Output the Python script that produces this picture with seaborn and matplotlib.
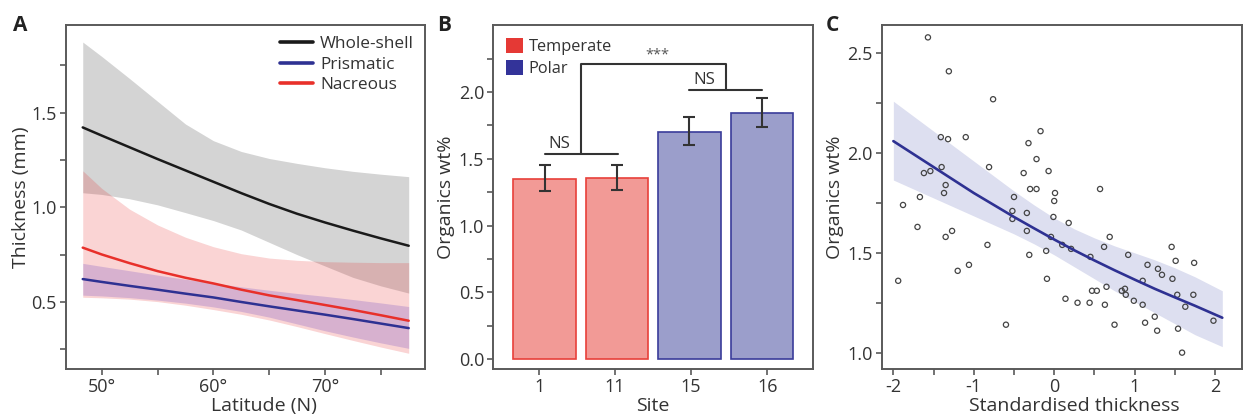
import numpy as np
import pandas as pd
import matplotlib
matplotlib.use("Agg")
import matplotlib.pyplot as plt
import seaborn as sns
from matplotlib.patches import Patch
from matplotlib.lines import Line2D
from matplotlib.ticker import FixedLocator, FormatStrFormatter

# ---------------- Panel A data ----------------
lat = [48.3, 50, 52.5, 55, 57.5, 60, 62.5, 65, 67.5, 70, 72.5, 75, 77.5]
whole_fit = [1.422, 1.379, 1.317, 1.255, 1.195, 1.135, 1.075, 1.018, 0.966, 0.920, 0.877, 0.836, 0.797]
whole_hi = [1.873, 1.797, 1.680, 1.560, 1.440, 1.352, 1.295, 1.258, 1.232, 1.209, 1.190, 1.175, 1.162]
whole_lo = [1.077, 1.068, 1.045, 1.013, 0.972, 0.930, 0.880, 0.815, 0.750, 0.690, 0.630, 0.585, 0.547]
nacre_fit = [0.787, 0.751, 0.705, 0.663, 0.628, 0.598, 0.565, 0.535, 0.510, 0.484, 0.458, 0.430, 0.401]
nacre_hi = [1.193, 1.100, 0.990, 0.907, 0.842, 0.792, 0.755, 0.732, 0.720, 0.713, 0.710, 0.708, 0.708]
nacre_lo = [0.525, 0.522, 0.515, 0.502, 0.483, 0.460, 0.435, 0.405, 0.370, 0.333, 0.297, 0.262, 0.229]
prism_fit = [0.621, 0.606, 0.585, 0.565, 0.544, 0.524, 0.500, 0.477, 0.455, 0.433, 0.410, 0.386, 0.362]
prism_hi = [0.704, 0.688, 0.665, 0.642, 0.620, 0.600, 0.580, 0.562, 0.545, 0.530, 0.513, 0.495, 0.476]
prism_lo = [0.536, 0.532, 0.523, 0.510, 0.494, 0.474, 0.450, 0.420, 0.384, 0.348, 0.315, 0.284, 0.255]
series_names = ["Whole-shell", "Prismatic", "Nacreous"]

# ---------------- Panel B data ----------------
sites = ["1", "11", "15", "16"]
site_group = ["Temperate", "Temperate", "Polar", "Polar"]
organics = [1.35, 1.36, 1.70, 1.845]
err_low = [1.26, 1.27, 1.605, 1.74]
err_high = [1.45, 1.455, 1.81, 1.958]

# ---------------- Panel C data ----------------
sc_x = [-1.57, -1.31, -0.76, -0.17, -1.41, -1.32, -1.10, -0.32, -0.22, -0.81,
        -1.40, -0.07, -0.38, -1.62, -1.54, -1.35, -0.30, -0.22, 0.57, -1.37,
        0.01, 0.00, -0.50, -1.67, -1.88, -0.52, -0.34, -0.01, 0.18, -0.52,
        -1.70, -1.27, -0.34, -1.35, -0.04, 0.69, -0.83, 0.10, 0.21, 0.62,
        -0.10, 1.46, -0.31, 0.92, 0.45, 1.51, 1.74, -1.06, 1.16, 1.29,
        -1.20, 1.34, 1.47, 1.10, -1.94, -0.09, 0.65, 0.47, 0.53, 0.88,
        0.84, 0.89, 1.53, 1.73, 0.99, 0.14, 0.29, 0.44, 0.63, 1.10,
        1.63, 1.25, 1.98, -0.60, 0.75, 1.13, 1.54, 1.28, 1.59]
sc_y = [2.58, 2.41, 2.27, 2.11, 2.08, 2.07, 2.08, 2.05, 1.97, 1.93,
        1.93, 1.91, 1.90, 1.90, 1.91, 1.84, 1.82, 1.82, 1.82, 1.80,
        1.80, 1.76, 1.78, 1.78, 1.74, 1.71, 1.70, 1.68, 1.65, 1.67,
        1.63, 1.61, 1.61, 1.58, 1.58, 1.58, 1.54, 1.54, 1.52, 1.53,
        1.51, 1.53, 1.49, 1.49, 1.48, 1.46, 1.45, 1.44, 1.44, 1.42,
        1.41, 1.39, 1.37, 1.36, 1.36, 1.37, 1.33, 1.31, 1.31, 1.32,
        1.31, 1.29, 1.29, 1.29, 1.26, 1.27, 1.25, 1.25, 1.24, 1.24,
        1.23, 1.18, 1.16, 1.14, 1.14, 1.15, 1.12, 1.11, 1.00]
fit_x = [-2.0, -1.75, -1.5, -1.25, -1.0, -0.75, -0.5, -0.25, 0.0, 0.25,
         0.5, 0.75, 1.0, 1.25, 1.5, 1.75, 2.09]
fit_y = [2.06, 1.995, 1.93, 1.865, 1.80, 1.74, 1.68, 1.623, 1.567, 1.513,
         1.462, 1.413, 1.366, 1.32, 1.277, 1.235, 1.175]
fit_hi = [2.26, 2.185, 2.11, 2.035, 1.96, 1.885, 1.81, 1.74, 1.675, 1.62,
          1.575, 1.535, 1.50, 1.465, 1.425, 1.38, 1.31]
fit_lo = [1.865, 1.82, 1.775, 1.73, 1.685, 1.64, 1.595, 1.545, 1.49, 1.43,
          1.37, 1.31, 1.255, 1.20, 1.145, 1.09, 1.03]

# ---------------- style ----------------
sns.set_theme(style="ticks")
FONT = ["Open Sans", "DejaVu Sans"]
plt.rcParams["font.family"] = FONT
plt.rcParams["axes.unicode_minus"] = False
SPINE = "#5a5a5a"
TXT = "#333333"
plt.rcParams.update({
    "axes.edgecolor": SPINE, "axes.linewidth": 1.4,
    "xtick.color": SPINE, "ytick.color": SPINE,
    "xtick.labelcolor": TXT, "ytick.labelcolor": TXT,
    "xtick.major.size": 4.5, "ytick.major.size": 4.5,
    "xtick.minor.size": 4.5, "ytick.minor.size": 4.5,
    "xtick.major.width": 1.2, "ytick.major.width": 1.2,
    "xtick.minor.width": 1.2, "ytick.minor.width": 1.2,
    "xtick.labelsize": 13, "ytick.labelsize": 13,
    "axes.labelsize": 14, "axes.labelcolor": TXT,
})

BLACK = "#1a1a1a"
BLUE = "#2E3192"
RED = "#E8302A"

W, H = 1244, 415
fig = plt.figure(figsize=(W / 100, H / 100), dpi=100)

def box(l, r, t=25, b=369):
    return [l / W, (H - b) / H, (r - l) / W, (b - t) / H]

axA = fig.add_axes(box(66, 425))
axB = fig.add_axes(box(493.3, 813))
axC = fig.add_axes(box(881.7, 1242))

# ---------------- Panel A ----------------
axA.fill_between(lat, whole_lo, whole_hi, color="black", alpha=0.17, lw=0)
axA.fill_between(lat, nacre_lo, nacre_hi, color=(0.90, 0.16, 0.16), alpha=0.2, lw=0)
axA.fill_between(lat, prism_lo, prism_hi, color=(0.30, 0.15, 0.75), alpha=0.2, lw=0)
dfA = pd.DataFrame({
    "lat": lat * 3,
    "thick": whole_fit + prism_fit + nacre_fit,
    "series": [series_names[0]] * len(lat) + [series_names[1]] * len(lat) + [series_names[2]] * len(lat),
})
sns.lineplot(data=dfA, x="lat", y="thick", hue="series",
             palette={"Whole-shell": BLACK, "Prismatic": BLUE, "Nacreous": RED},
             lw=1.8, ax=axA, legend=False)
axA.set_xlim(46.8, 78.96)
axA.set_ylim(0.146, 1.963)
axA.xaxis.set_major_locator(FixedLocator([50, 60, 70]))
axA.set_xticklabels(["50°", "60°", "70°"])
axA.xaxis.set_minor_locator(FixedLocator([55, 65, 75]))
axA.yaxis.set_major_locator(FixedLocator([0.5, 1.0, 1.5]))
axA.yaxis.set_major_formatter(FormatStrFormatter("%.1f"))
axA.yaxis.set_minor_locator(FixedLocator([0.25, 0.75, 1.25, 1.75]))
axA.set_xlabel("Latitude (N)")
axA.set_ylabel("Thickness (mm)")
axA.xaxis.set_label_coords(0.55, -0.08)
axA.yaxis.set_label_coords(-0.1, 0.5)
handlesA = [Line2D([], [], color=c, lw=2.6) for c in (BLACK, BLUE, RED)]
axA.legend(handlesA, series_names, loc="upper right", frameon=False, fontsize=12.4,
           handlelength=1.9, handletextpad=0.4, labelspacing=0.26,
           borderaxespad=0.25, labelcolor=TXT)

# ---------------- Panel B ----------------
dfB = pd.DataFrame({"site": sites, "org": organics, "group": site_group})
fill_pal = {"Temperate": "#F29A96", "Polar": "#9B9ECB"}
edge_pal = {"Temperate": "#E8403A", "Polar": "#3A3C9A"}
sns.barplot(data=dfB, x="site", y="org", hue="group", palette=fill_pal,
            dodge=False, width=0.863, legend=False, ax=axB, errorbar=None,
            order=sites, saturation=1)
for bar_patch, g in zip(axB.patches, site_group):
    bar_patch.set_edgecolor(edge_pal[g])
    bar_patch.set_linewidth(1.2)
pos = np.arange(len(sites))
axB.errorbar(pos, organics,
             yerr=[np.array(organics) - np.array(err_low), np.array(err_high) - np.array(organics)],
             fmt="none", ecolor="#333333", elinewidth=1.5, capsize=4.3, capthick=1.5)
axB.set_xlim(-0.707, 3.706)
axB.set_ylim(-0.0726, 2.501)
# tick marks in the original sit slightly off the bar centres
axB.set_xticks([-0.075, 0.975, 2.02, 3.075])
axB.set_xticklabels(sites)
axB.yaxis.set_major_locator(FixedLocator([0.0, 0.5, 1.0, 1.5, 2.0]))
axB.yaxis.set_major_formatter(FormatStrFormatter("%.1f"))
axB.yaxis.set_minor_locator(FixedLocator([0.25, 0.75, 1.25, 1.75, 2.25]))
axB.set_xlabel("Site")
axB.set_ylabel("Organics wt%")
axB.xaxis.set_label_coords(0.5, -0.08)
axB.yaxis.set_label_coords(-0.12, 0.5)
# significance brackets
lc = "#333333"
axB.plot([0.0, 1.02], [1.536, 1.536], color=lc, lw=1.5)
axB.plot([2.0, 3.0], [2.015, 2.015], color=lc, lw=1.5)
axB.plot([0.51, 0.51, 2.50, 2.50], [1.536, 2.21, 2.21, 2.015], color=lc, lw=1.5)
axB.text(0.21, 1.55, "NS", ha="center", va="bottom", fontsize=12.2, color=TXT)
axB.text(2.2, 2.03, "NS", ha="center", va="bottom", fontsize=12.2, color=TXT)
axB.text(1.56, 2.277, "***", ha="center", va="center", fontsize=10.5, color="#555555")
handlesB = [Patch(facecolor="#E53935", edgecolor="none"), Patch(facecolor="#333399", edgecolor="none")]
axB.legend(handlesB, ["Temperate", "Polar"], loc="upper left", frameon=False, fontsize=11.8,
           handlelength=1.0, handleheight=1.0, handletextpad=0.35, labelspacing=0.3,
           borderaxespad=0.4, labelcolor=TXT)

# ---------------- Panel C ----------------
axC.fill_between(fit_x, fit_lo, fit_hi, color="#DDDFF0", lw=0)
sns.scatterplot(x=sc_x, y=sc_y, ax=axC, s=14, facecolor="none",
                edgecolor="#444444", linewidth=0.9, marker="o")
sns.lineplot(x=fit_x, y=fit_y, ax=axC, color=BLUE, lw=1.9)
axC.set_xlim(-2.145, 2.335)
axC.set_ylim(0.918, 2.642)
axC.xaxis.set_major_locator(FixedLocator([-2, -1, 0, 1, 2]))
axC.set_xticklabels(["-2", "-1", "0", "1", "2"])
axC.xaxis.set_minor_locator(FixedLocator([-1.5, -0.5, 0.5, 1.5]))
axC.yaxis.set_major_locator(FixedLocator([1.0, 1.5, 2.0, 2.5]))
axC.yaxis.set_major_formatter(FormatStrFormatter("%.1f"))
axC.yaxis.set_minor_locator(FixedLocator([1.25, 1.75, 2.25]))
axC.set_xlabel("Standardised thickness")
axC.set_ylabel("Organics wt%")
axC.xaxis.set_label_coords(0.535, -0.08)
axC.yaxis.set_label_coords(-0.105, 0.5)

for ax in (axA, axB, axC):
    for s in ax.spines.values():
        s.set_visible(True)
        s.set_color(SPINE)
        s.set_linewidth(1.4)
    ax.tick_params(which="both", direction="out", pad=2)

# panel letters
for lbl, x in (("A", 13), ("B", 437), ("C", 826)):
    fig.text(x / W, 1 - 31 / H, lbl, fontsize=15, fontweight="bold", color="#222222",
             family=FONT)

fig.savefig("out.png", dpi=100)
